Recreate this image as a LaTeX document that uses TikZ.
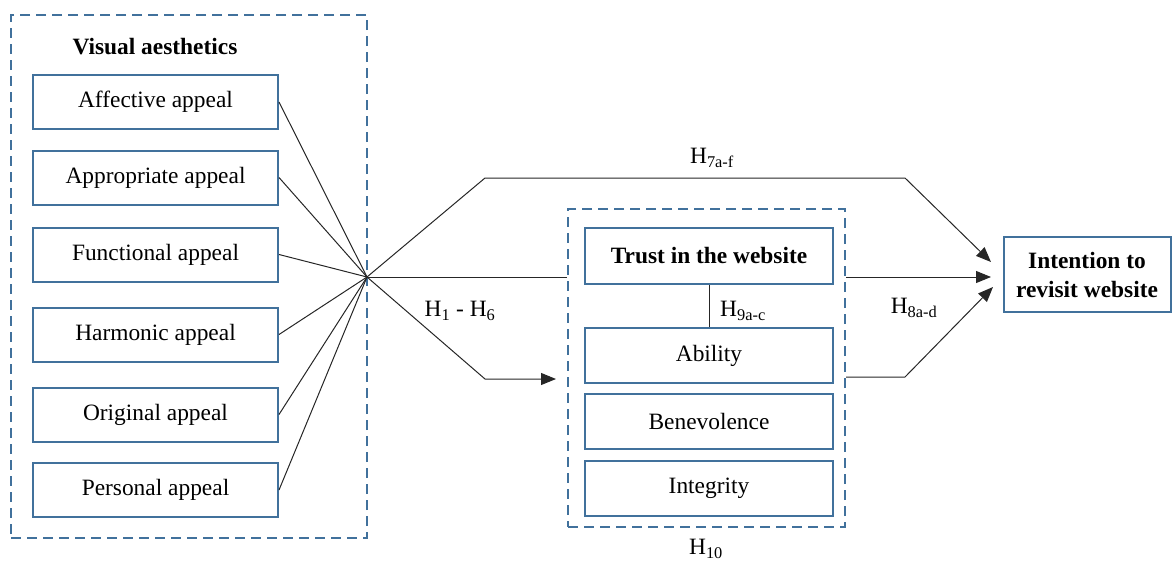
\documentclass[tikz,border=0pt]{standalone}
\usepackage{fontspec}
\setmainfont{Liberation Serif}
\usepackage{tikz}
\usetikzlibrary{arrows.meta}
\definecolor{boxblue}{RGB}{65,113,156}

\tikzset{
  fattore/.style={draw=boxblue, line width=2pt, minimum width=245pt, minimum height=54pt, inner sep=0pt},
  gruppo/.style={draw=boxblue, line width=2pt, dash pattern=on 10pt off 6pt, inner sep=0pt},
  linea/.style={draw=black!85, line width=1pt},
  freccia/.style={linea, -{Triangle[length=15pt,width=12pt]}},
}

\begin{document}
\begin{tikzpicture}[x=1pt, y=-1pt, font=\fontsize{23.4}{29}\selectfont]
                \useasboundingbox (0,0) rectangle (1172,562);

                % Riquadri tratteggiati
                \node[gruppo, minimum width=356pt, minimum height=523pt] (va) at (189,276.5) {};
                \node[gruppo, minimum width=277pt, minimum height=318pt] (tg) at (706.5,368) {};

                \node[font=\fontsize{23.4}{29}\selectfont\bfseries] (titolo) at (155,47) {Visual aesthetics};

                % Fattori estetici
                \node[fattore] (aff) at (155.5,102) {Affective appeal};
                \node[fattore] (app) at (155.5,177.5) {Appropriate appeal};
                \node[fattore] (fun) at (155.5,254.5) {Functional appeal};
                \node[fattore] (har) at (155.5,334.5) {Harmonic appeal};
                \node[fattore] (ori) at (155.5,414.5) {Original appeal};
                \node[fattore] (per) at (155.5,490) {Personal appeal};

                % Fiducia
                \node[fattore, minimum width=248pt, minimum height=56pt, font=\fontsize{23.4}{29}\selectfont\bfseries] (trust) at (709,256) {Trust in the website};
                \node[fattore, minimum width=248pt, minimum height=55pt] (abi) at (709,355.5) {Ability};
                \node[fattore, minimum width=248pt, minimum height=55pt] (ben) at (709,421.5) {Benevolence};
                \node[fattore, minimum width=248pt, minimum height=55pt] (int) at (709,488.5) {Integrity};

                % Intenzione
                \node[fattore, minimum width=167pt, minimum height=75pt, align=center, font=\fontsize{23.4}{29}\selectfont\bfseries] (riv) at (1087,274.5) {Intention to\\revisit website};

                % Punti di snodo
                \coordinate (hub) at (367,277);
                \coordinate (k1) at (485,178);
                \coordinate (k2) at (905,178);
                \coordinate (k3) at (485,379);
                \coordinate (k4) at (905,377);
                \coordinate (e1) at (991,262);
                \coordinate (e2) at (991,277);
                \coordinate (e3) at (993,287);
                \coordinate (e4) at (556,379);

                % Linee verso lo snodo
                \foreach \f in {aff,app,fun,har,ori,per}
                  \draw[linea] (\f.east) -- (hub);

                % Frecce
                \draw[freccia] (hub) -- (k1) -- (k2) -- (e1);
                \draw[linea] (hub) -- (hub -| tg.west);
                \draw[freccia] (hub) -- (k3) -- (e4);
                \draw[freccia] (hub -| tg.east) -- (e2);
                \draw[freccia] (tg.east |- k4) -- (k4) -- (e3);
                \draw[linea] (trust.south) -- (abi.north);

                % Etichette
                \node (h7) at (712,158) {H\textsubscript{7a-f}};
                \node (h1) at (460,311) {H\textsubscript{1} - H\textsubscript{6}};
                \node (h9) at (743,311) {H\textsubscript{9a-c}};
                \node (h8) at (914,308) {H\textsubscript{8a-d}};
                \node (h10) at (706,549) {H\textsubscript{10}};
\end{tikzpicture}
\end{document}
